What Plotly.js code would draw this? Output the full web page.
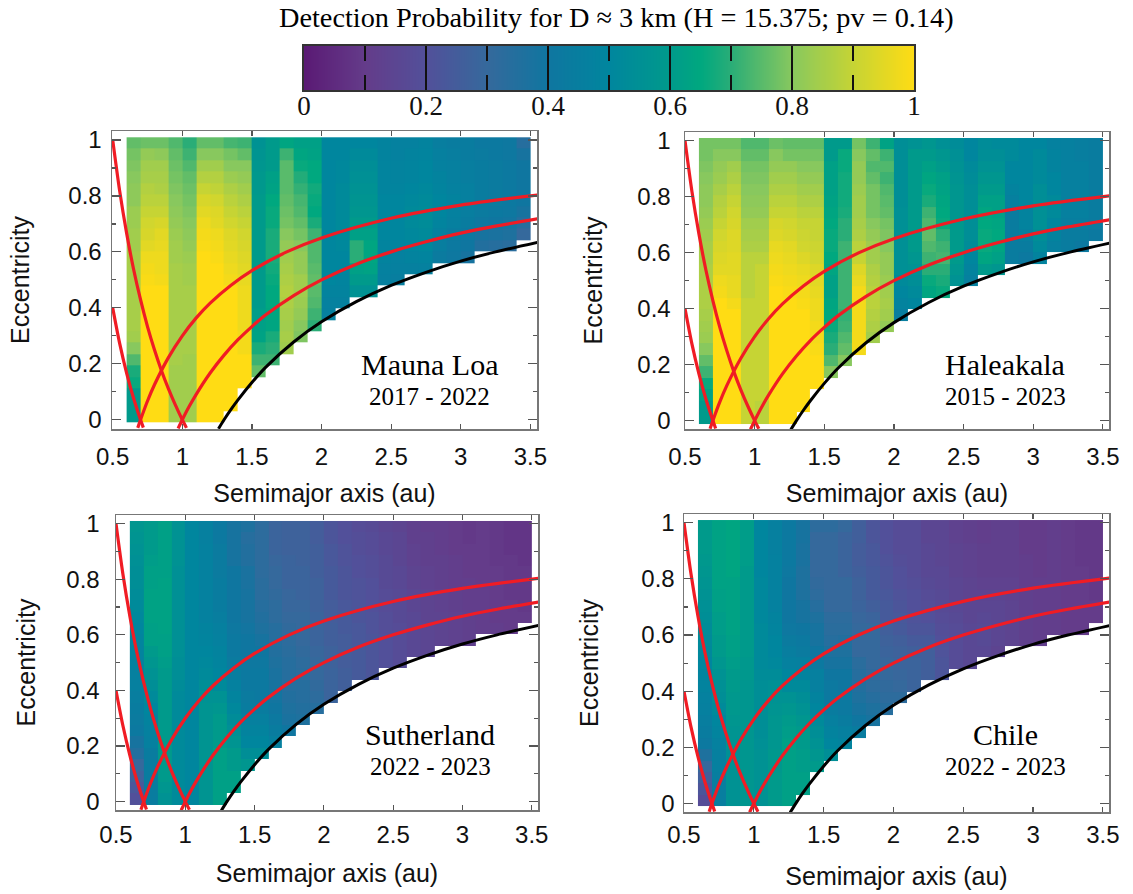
<!DOCTYPE html>
<html><head><meta charset="utf-8">
<script src="https://cdn.plot.ly/plotly-3.0.1.min.js"></script>
<style>html,body{margin:0;padding:0;background:#fff}#c{width:1133px;height:894px}</style></head>
<body><div id="c"></div>
<script>
var semimajorCells=[0.65,0.75,0.85,0.95,1.05,1.15,1.25,1.35,1.45,1.55,1.65,1.75,1.85,1.95,2.05,2.15,2.25,2.35,2.45,2.55,2.65,2.75,2.85,2.95,3.05,3.15,3.25,3.35,3.45];
var eccentricityCells=[0.010,0.051,0.092,0.132,0.173,0.214,0.255,0.296,0.336,0.377,0.418,0.459,0.500,0.540,0.581,0.622,0.663,0.704,0.744,0.785,0.826,0.867,0.908,0.948,0.989];
// each column lists percent detection probability from the top row downward
var maunaLoa=[
[76,78,79,80,81,81,83,83,84,84,85,85,85,85,85,85,85,84,80,74,68,66,60,60,60],
[77,82,84,85,87,88,90,92,93,95,97,98,99,100,100,100,100,100,100,100,100,100,100,100,100],
[77,81,84,85,86,88,90,93,95,96,97,97,98,100,100,100,100,100,100,100,100,100,100,100,100],
[74,76,77,78,79,80,81,82,83,84,84,85,85,85,85,85,85,85,85,85,84,84,84,84,84],
[70,72,74,76,77,78,79,80,81,82,83,84,84,85,85,85,85,85,85,84,84,84,84,84,84],
[76,80,84,87,90,93,95,97,98,99,100,100,100,100,100,100,100,100,100,100,100,100,100,100,100],
[76,80,84,87,89,92,94,95,97,98,99,100,100,100,100,100,100,100,100,100,100,100,100,100,100],
[73,78,80,83,86,88,90,92,94,95,96,97,98,100,100,100,100,100,100,100,100,100,100,100],
[72,76,80,82,84,86,88,90,92,93,94,95,96,97,97,97,97,98,98,100,100,100],
[56,57,58,59,59,60,60,60,60,60,60,60,60,60,60,61,62,63,68,72,76],
[60,60,60,62,63,65,66,66,68,68,68,67,66,65,65,64,64,68,70,72],
[64,72,75,75,75,76,77,78,80,82,84,85,86,87,86,85,84,85,84],
[62,64,66,69,71,73,74,76,78,80,82,82,84,84,83,82,80,79],
[62,63,65,65,67,66,65,68,72,74,74,75,76,75,74,72,70],
[50,50,50,50,50,50,50,50,50,50,50,50,50,48,47,46],
[50,50,51,51,52,52,52,52,52,51,50,50,49,48,47],
[50,52,54,55,56,57,58,60,62,70,70,62,60,56],
[50,52,54,55,56,57,58,60,62,64,64,63,60,56],
[48,48,49,49,49,50,50,50,50,49,48,47,46],
[47,47,48,48,49,50,50,50,50,49,47,46,45],
[47,48,49,49,50,51,52,52,51,50,48,46],
[48,49,50,50,51,52,53,53,52,51,49,47],
[45,46,47,48,49,50,50,49,47,45,43],
[44,45,46,46,47,48,47,46,44,42,41],
[44,44,45,45,46,46,45,44,42,40,38],
[42,43,44,44,44,44,43,41,38,35],
[42,42,43,43,43,43,42,40,37,34],
[41,41,42,42,42,42,41,39,36,33],
[34,38,40,40,40,40,38,34,30]];
var haleakala=[
[78,78,79,80,81,81,82,83,84,85,85,86,86,86,86,85,84,83,80,76,72,66,63,60,60],
[78,80,82,83,85,87,88,90,92,93,94,95,97,98,100,100,100,100,100,100,100,100,100,100,100],
[78,80,84,86,88,90,92,93,94,94,95,95,96,96,98,100,100,100,100,100,100,100,100,100,100],
[74,76,78,79,80,81,82,84,85,86,88,88,88,88,90,90,90,90,90,90,90,90,90,90,90],
[74,76,78,79,80,81,82,84,85,86,88,90,90,90,90,90,90,90,90,90,90,90,90,88,88],
[77,80,82,84,86,88,90,93,94,96,97,98,99,100,100,100,100,100,100,100,100,100,100,100,100],
[76,78,82,84,86,88,90,92,93,95,96,97,98,99,100,100,100,100,100,100,100,100,100,100,100],
[76,78,80,82,84,86,88,90,91,92,94,96,97,98,99,100,100,100,100,100,100,100,100,100],
[76,78,80,82,84,86,88,90,90,91,92,94,95,96,97,97,98,98,99,100,100,100],
[60,60,62,62,62,63,64,65,66,66,65,64,62,62,64,65,66,68,70,74,80],
[60,66,66,67,67,67,68,70,70,72,72,72,72,72,72,71,72,74,76,80],
[78,80,82,82,83,84,84,85,86,88,90,94,96,98,98,98,98,98,98],
[72,76,74,76,78,78,78,80,82,84,84,86,87,88,88,87,86,84],
[63,72,74,72,74,75,76,78,79,80,82,82,83,84,85,84,82],
[54,54,54,54,54,54,55,55,55,55,55,55,52,50,48,45],
[56,60,60,60,60,60,60,60,60,60,58,56,54,52,50],
[58,60,62,64,66,68,72,74,76,74,72,70,66,64],
[55,58,60,62,63,64,65,66,70,72,73,70,68,66],
[53,55,56,57,58,58,58,59,60,60,60,58,56],
[50,50,52,53,54,54,54,54,54,53,50,48,46],
[53,54,56,58,60,62,64,65,66,66,64,60],
[52,54,56,58,60,62,62,64,65,64,62,58],
[52,52,50,50,48,46,44,44,44,44,44],
[50,50,50,50,50,50,48,48,46,44,42],
[50,52,52,52,54,54,55,55,54,52,48],
[47,48,48,50,50,52,52,50,48,46],
[46,46,46,46,46,46,46,45,44,44],
[45,45,46,46,46,46,46,45,44,42],
[44,44,44,44,44,44,44,43,42]];
var sutherland=[
[58,57,56,55,54,54,53,52,51,50,49,48,47,46,46,45,44,43,42,38,35,30,27,23,20],
[60,60,60,61,62,62,63,63,63,62,62,60,58,56,54,52,50,48,47,46,44,44,44,44,44],
[62,62,62,62,62,63,63,63,63,63,62,62,61,60,60,60,60,60,60,60,60,60,60,58,56],
[56,56,56,56,55,55,55,55,55,55,55,55,54,54,53,52,52,52,52,52,52,52,52,52,52],
[50,50,50,50,50,50,50,50,50,50,50,50,50,50,50,50,50,50,50,50,50,50,50,50,50],
[46,46,47,47,47,47,47,47,47,48,49,50,51,52,54,56,57,57,57,57,57,57,57,57,57],
[42,42,43,43,43,44,44,44,45,46,47,48,49,50,52,56,58,60,60,60,62,62,62,62,62],
[38,38,38,38,40,40,40,40,40,41,42,42,43,45,47,49,51,53,55,57,60,60,62,62],
[36,34,35,35,37,37,38,38,38,39,40,40,41,42,42,43,44,46,48,50,54,58],
[32,32,32,32,32,33,33,34,35,36,38,40,41,42,42,42,44,46,48,50,54],
[28,28,28,29,30,30,31,32,32,34,34,35,36,37,38,39,40,42,44,46],
[27,27,27,28,28,28,29,29,30,31,32,33,34,34,34,35,36,37,40],
[27,27,27,27,28,28,28,29,30,30,30,31,32,33,34,34,35,36],
[25,25,26,26,26,27,27,27,28,28,28,29,30,30,31,32,34],
[22,22,23,23,24,24,24,25,25,26,26,27,27,28,28,28],
[20,20,21,21,22,22,22,23,24,24,25,25,25,26,26],
[18,19,19,20,20,21,21,22,22,23,23,24,24,24],
[17,18,18,19,19,20,20,20,21,21,22,22,22,22],
[15,16,16,17,17,17,18,18,19,19,20,20,20],
[14,15,15,15,16,16,17,17,17,18,18,18,18],
[12,12,13,13,14,14,15,15,16,16,16,16],
[11,12,12,12,13,13,14,14,14,15,15,15],
[11,11,11,12,12,12,13,13,14,14,14],
[10,10,10,11,11,11,12,12,13,13,13],
[9,9,10,10,10,11,11,11,12,12,12],
[10,10,10,10,10,10,11,11,11,11],
[9,9,9,9,10,10,10,10,10,11],
[8,8,8,9,9,9,9,10,10,10],
[8,8,8,8,9,9,9,9,10]];
var chile=[
[60,60,60,59,58,57,56,55,54,53,52,51,50,49,48,47,46,45,44,42,36,30,26,22,18],
[63,63,63,63,63,63,62,62,61,61,60,60,58,56,55,54,52,50,49,47,46,46,45,45,45],
[64,64,64,64,64,63,63,63,63,63,62,62,61,60,60,59,59,58,57,57,55,56,56,56,56],
[61,61,61,61,60,60,60,60,60,60,60,60,59,59,58,58,58,58,58,58,58,58,58,58,58],
[50,50,50,50,50,51,51,51,51,52,52,52,52,53,54,54,54,54,54,55,56,56,56,56,56],
[46,46,46,47,47,47,47,47,48,49,50,50,51,53,55,56,57,58,58,58,59,59,60,60,60],
[42,42,42,42,41,40,40,40,40,41,43,45,47,50,52,56,58,60,61,62,62,62,62,62,62],
[38,38,37,37,36,36,36,38,38,40,42,43,46,48,52,54,56,58,60,60,61,61,62,62],
[32,30,30,30,30,31,32,34,36,38,38,40,42,46,46,48,50,52,54,56,58,60],
[32,30,30,30,30,30,30,30,32,33,34,36,38,40,42,42,44,46,48,50,54],
[30,28,28,28,28,30,30,30,32,33,35,36,38,40,40,42,42,44,46,48],
[26,26,25,25,26,27,27,28,29,30,30,30,33,34,35,36,38,40,44],
[22,22,23,23,24,24,24,26,28,30,30,30,30,31,32,34,36,38],
[20,20,20,21,22,22,23,24,24,26,27,28,29,30,31,32,34],
[18,18,18,19,20,20,21,22,23,24,26,27,28,29,30,32],
[18,18,18,18,18,19,20,20,21,22,24,26,28,28,28],
[15,15,16,16,16,17,18,19,20,22,24,26,26,26],
[15,15,15,15,16,16,17,17,18,19,20,21,22,22],
[13,13,14,14,14,15,15,16,17,18,18,18,18],
[12,12,13,13,13,14,14,15,15,16,16,16,16],
[11,11,12,12,12,13,14,15,16,17,17,16],
[12,12,12,12,12,13,14,15,15,15,15,14],
[12,12,12,12,12,13,13,14,14,14,14],
[10,10,10,11,11,11,12,12,12,12,12],
[10,10,10,10,10,11,11,11,11,11,11],
[11,11,11,11,11,11,11,11,11,11],
[10,10,10,10,10,10,10,10,10,10],
[9,9,9,9,10,10,10,10,10,10],
[9,9,9,9,9,9,9,10,10]];

var redA1=[0.5,0.55,0.6,0.65,0.7,0.75,0.8,0.85,0.9,0.95,1,1.03];
var redE1=[1,0.818,0.667,0.538,0.429,0.333,0.25,0.176,0.111,0.053,0,-0.029];
var redA2=[0.5,0.55,0.6,0.65,0.7,0.72];
var redE2=[0.4,0.273,0.167,0.077,0,-0.028];
var redA3=[0.97,1,1.05,1.1,1.2,1.3,1.4,1.5,1.6,1.8,2,2.25,2.5,2.75,3,3.25,3.55];
var redE3=[-0.031,0,0.048,0.091,0.167,0.231,0.286,0.333,0.375,0.444,0.5,0.556,0.6,0.636,0.667,0.692,0.718];
var redA4=[0.68,0.7,0.75,0.8,0.9,1,1.1,1.2,1.35,1.5,1.75,2,2.5,3,3.55];
var redE4=[-0.029,0,0.067,0.125,0.222,0.3,0.364,0.417,0.481,0.533,0.6,0.65,0.72,0.767,0.803];
var blackA=[1.26,1.3,1.35,1.4,1.5,1.6,1.8,2,2.25,2.5,2.75,3,3.25,3.55];
var blackE=[-0.032,0,0.037,0.071,0.133,0.188,0.278,0.35,0.422,0.48,0.527,0.567,0.6,0.634];

var scaleLevels=[0,0.02,0.04,0.06,0.08,0.1,0.12,0.14,0.16,0.18,0.2,0.22,0.24,0.26,0.28,0.3,0.32,0.34,0.36,0.38,0.4,0.42,0.44,0.46,0.48,0.5,0.52,0.54,0.56,0.58,0.6,0.62,0.64,0.66,0.68,0.7,0.72,0.74,0.76,0.78,0.8,0.82,0.84,0.86,0.88,0.9,0.92,0.94,0.96,0.98,1];
var palette=[[0,'#5a1a74'],[0.1,'#643c8a'],[0.2,'#52509a'],[0.3,'#35699c'],[0.4,'#0f76a0'],[0.5,'#00869e'],[0.6,'#009a8b'],[0.65,'#00a87f'],[0.7,'#2aad77'],[0.8,'#88c85e'],[0.9,'#c6d434'],[1,'#ffdc14']];

var W=1133,H=894;
var serif='"Liberation Serif","Times New Roman",serif', sans='"Liberation Sans",Arial,sans-serif';
var panels=[
 {cols:maunaLoa,name:'Mauna Loa',years:'2017 - 2022',box:[112,537,131,429],xr:[0.495,3.548],yr:[-0.033,1.032],lx:429,ly:365,yy:396,xs:6,ys:4,xt:15,yt:31},
 {cols:haleakala,name:'Haleakala',years:'2015 - 2023',box:[685,1109,132,429],xr:[0.5,3.544],yr:[-0.03,1.031],lx:1005,ly:365,yy:396,xs:6,ys:8,xt:15,yt:27},
 {cols:sutherland,name:'Sutherland',years:'2022 - 2023',box:[116,538,515,810],xr:[0.5,3.545],yr:[-0.03,1.031],lx:430,ly:734,yy:766,xs:3,ys:10,xt:17,yt:23},
 {cols:chile,name:'Chile',years:'2022 - 2023',box:[684,1109,514,812],xr:[0.5,3.544],yr:[-0.03,1.031],lx:1005,ly:734,yy:766,xs:1,ys:3,xt:20,yt:35}
];
var data=[],layout={width:W,height:H,margin:{l:0,r:0,t:0,b:0},paper_bgcolor:'#fff',plot_bgcolor:'#fff',showlegend:false,annotations:[]};
function line(x,y,c,w,xa,ya){return {type:'scatter',mode:'lines',x:x,y:y,xaxis:xa,yaxis:ya,hoverinfo:'skip',line:{color:c,width:w,shape:'spline',smoothing:0.8}};}
panels.forEach(function(p,n){
  var id=n+1,xa='x'+id,ya='y'+id;
  var z=eccentricityCells.map(function(){return semimajorCells.map(function(){return null;});});
  p.cols.forEach(function(col,i){col.forEach(function(v,j){z[24-j][i]=v/100;});});
  data.push({type:'heatmap',x:semimajorCells,y:eccentricityCells,z:z,xaxis:xa,yaxis:ya,zmin:0,zmax:1,colorscale:palette,showscale:false,hoverongaps:false});
  data.push(line(redA1,redE1,'#f01c24',3.2,xa,ya),line(redA2,redE2,'#f01c24',3.2,xa,ya),line(redA3,redE3,'#f01c24',3.2,xa,ya),line(redA4,redE4,'#f01c24',3.2,xa,ya),line(blackA,blackE,'#000',3,xa,ya));
  var b=p.box;
  layout['xaxis'+id]={domain:[b[0]/W,b[1]/W],range:p.xr,anchor:ya,tickvals:[0.5,1,1.5,2,2.5,3,3.5],ticktext:['0.5','1','1.5','2','2.5','3','3.5'],ticks:'inside',ticklen:5,tickwidth:1.2,tickcolor:'#555',showline:true,linecolor:'#777',linewidth:1.5,mirror:'ticks',showgrid:false,zeroline:false,ticklabelstandoff:p.xs,tickfont:{family:sans,size:24,color:'#111'},
    title:{text:'Semimajor axis (au)',font:{family:sans,size:25,color:'#111'},standoff:p.xt}};
  layout['yaxis'+id]={domain:[1-b[3]/H,1-b[2]/H],range:p.yr,anchor:xa,tickvals:[0,0.2,0.4,0.6,0.8,1],ticktext:['0','0.2','0.4','0.6','0.8','1'],ticks:'inside',ticklen:9,tickwidth:1.2,tickcolor:'#555',minor:{tickvals:[0.1,0.3,0.5,0.7,0.9],ticks:'inside',ticklen:4,tickwidth:1.2,tickcolor:'#555'},showline:true,linecolor:'#777',linewidth:1.5,mirror:'ticks',showgrid:false,zeroline:false,ticklabelstandoff:p.ys,tickfont:{family:sans,size:24,color:'#111'},
    title:{text:'Eccentricity',font:{family:sans,size:25,color:'#111'},standoff:p.yt}};
  layout.annotations.push(
   {xref:'paper',yref:'paper',x:p.lx/W,y:1-p.ly/H,text:p.name,showarrow:false,xanchor:'center',yanchor:'middle',font:{family:serif,size:30,color:'#000'}},
   {xref:'paper',yref:'paper',x:p.lx/W,y:1-p.yy/H,text:p.years,showarrow:false,xanchor:'center',yanchor:'middle',font:{family:serif,size:25,color:'#000'}});
});
data.push({type:'heatmap',x:scaleLevels,y:[0,1],z:[scaleLevels,scaleLevels],xaxis:'x5',yaxis:'y5',zmin:0,zmax:1,colorscale:palette,showscale:false,zsmooth:'best',hoverinfo:'skip'});
layout.xaxis5={domain:[304/W,914/W],range:[0,1],anchor:'y5',tickvals:[0,0.2,0.4,0.6,0.8,1],ticktext:['0','0.2','0.4','0.6','0.8','1'],ticks:'inside',ticklen:44,tickwidth:1.5,tickcolor:'#111',minor:{tickvals:[0.1,0.3,0.5,0.7,0.9],ticks:'inside',ticklen:15,tickwidth:1.5,tickcolor:'#111'},showline:true,linecolor:'#333',linewidth:2,mirror:'ticks',showgrid:false,zeroline:false,ticklabelstandoff:-9,tickfont:{family:serif,size:27,color:'#111'}};
layout.yaxis5={domain:[1-90/H,1-46/H],range:[0,1],anchor:'x5',showticklabels:false,ticks:'',showline:true,linecolor:'#333',linewidth:2,mirror:true,showgrid:false,zeroline:false};
layout.annotations.push({xref:'paper',yref:'paper',x:616/W,y:1-18/H,text:'Detection Probability for D \u2248 3 km (H = 15.375; pv = 0.14)',showarrow:false,xanchor:'center',yanchor:'middle',font:{family:serif,size:28.3,color:'#000'}});
Plotly.newPlot('c',data,layout,{displayModeBar:false,staticPlot:true});
</script></body></html>
